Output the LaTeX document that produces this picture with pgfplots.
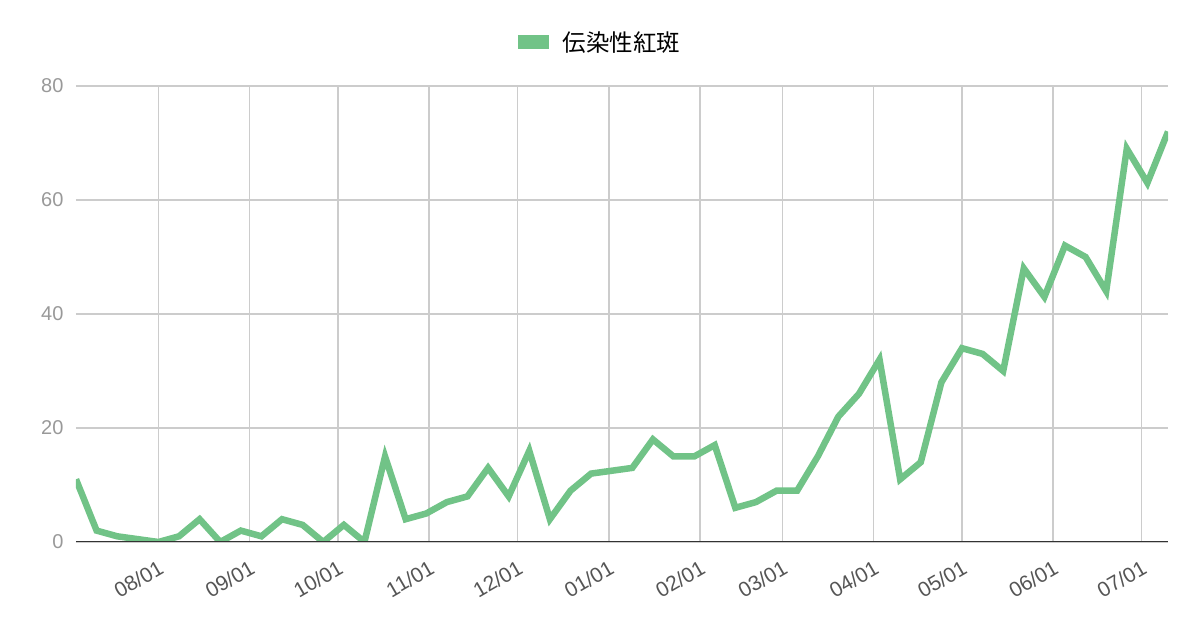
\documentclass[border=0pt]{standalone}
\usepackage{pgfplots}
\pgfplotsset{compat=1.18}
\usepackage{fontspec}
\setmainfont{Liberation Sans}
\newfontfamily\cjk{Noto Sans CJK JP}

\definecolor{series}{RGB}{113,195,135}
\definecolor{gridc}{RGB}{204,204,204}
\definecolor{ylab}{RGB}{153,153,153}
\definecolor{xlab}{RGB}{85,85,85}
\definecolor{axisc}{RGB}{51,51,51}

\begin{document}
\begin{tikzpicture}[x=1pt,y=1pt]
	\begin{axis}[
		name=ax,
		scale only axis,
		width=1092pt,
		height=456pt,
		xmin=-28, xmax=343,
		ymin=0, ymax=80,
		axis line style={draw=none},
		major tick length=0pt,
		ytick={0,20,40,60,80},
		xtick={0,31,61,92,122,153,184,212,243,273,304,334},
		xticklabels={08/01,09/01,10/01,11/01,12/01,01/01,02/01,03/01,04/01,05/01,06/01,07/01},
		grid=major,
		grid style={gridc, line width=1.5pt},
		/pgf/number format/assume math mode=true,
		ticklabel style={font=\fontsize{20}{24}\selectfont},
		yticklabel style={ylab, xshift=-9pt},
		xticklabel style={xlab, font=\fontsize{21}{25}\selectfont, rotate=30, anchor=north east, xshift=-6pt, yshift=-11pt},
		legend style={
			at={(0.48,1.096)}, anchor=center, draw=none, fill=none,
			font=\cjk\fontsize{23.5}{28}\selectfont,
			legend cell align=left,
		},
		legend image code/.code={
			\fill[series] (0pt,-4pt) rectangle (24pt,4pt);
		},
		]
		\addplot [series, line width=6.5pt] coordinates {
			(-28, 11) (-21, 2) (-14, 1) (-7, 0.5) (0, 0) (7, 1) (14, 4)
			(21, 0) (28, 2) (35, 1) (42, 4) (49, 3) (56, 0) (63, 3)
			(70, 0) (77, 15) (84, 4) (91, 5) (98, 7) (105, 8) (112, 13)
			(119, 8) (126, 16) (133, 4) (140, 9) (147, 12) (154, 12.5) (161, 13)
			(168, 18) (175, 15) (182, 15) (189, 17) (196, 6) (203, 7) (210, 9)
			(217, 9) (224, 15) (231, 22) (238, 26) (245, 32) (252, 11) (259, 14)
			(266, 28) (273, 34) (280, 33) (287, 30) (294, 48) (301, 43) (308, 52)
			(315, 50) (322, 44) (329, 69) (336, 63) (343, 72)
		};
		\addlegendentry{\hspace{12pt}伝染性紅斑}
		\draw[axisc, line width=2pt] (rel axis cs:0,0) -- (rel axis cs:1,0);
	\end{axis}
	\pgfresetboundingbox
	\useasboundingbox (ax.south west) ++(-76pt,-84pt) rectangle ++(1200pt,626pt);
\end{tikzpicture}
\end{document}
